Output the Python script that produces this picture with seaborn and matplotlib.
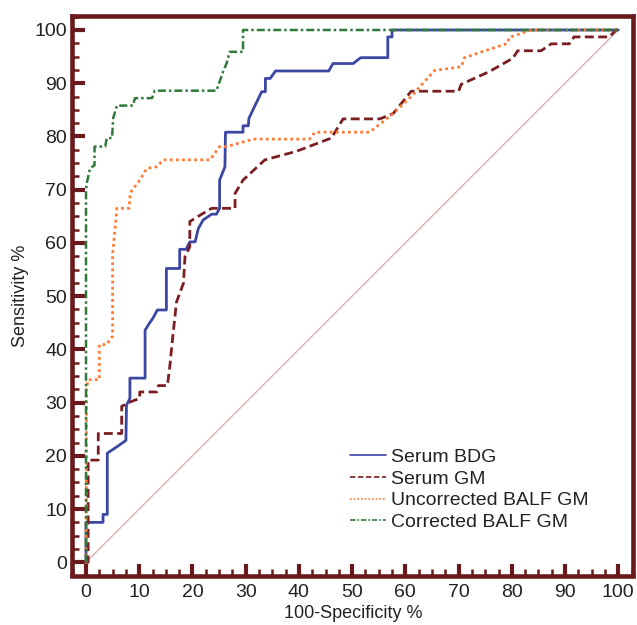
import matplotlib
matplotlib.use("Agg")
import matplotlib.pyplot as plt
import numpy as np
import pandas as pd
import seaborn as sns
from matplotlib.ticker import MultipleLocator

# ROC curves: (100-specificity, sensitivity) in %
bdg_fpr = [0, 0, 3.2, 3.2, 4.0, 4.0, 5.8, 7.5, 7.6, 8.25, 8.25, 11.1, 11.1, 11.9, 12.6, 13.4,
           15.1, 15.1, 17.6, 17.6, 18.8, 19.5, 20.5, 21.1, 22.0, 23.6, 24.5, 25.1, 25.1, 26.1,
           26.2, 29.5, 29.5, 30.5, 30.6, 33.0, 33.7, 33.7, 34.6, 35.6, 45.6, 46.4, 50.2, 51.6,
           56.7, 56.7, 57.5, 57.5, 100]
bdg_tpr = [0, 7.5, 7.5, 9.0, 9.0, 20.5, 21.7, 22.9, 29.5, 30.8, 34.6, 34.6, 43.6, 44.9, 45.9, 47.4,
           47.4, 55.2, 55.2, 58.8, 58.8, 60.2, 60.2, 62.7, 64.3, 65.4, 65.4, 66.5, 71.8, 74.3,
           80.8, 80.8, 82.0, 82.0, 83.4, 88.4, 88.4, 90.9, 90.9, 92.3, 92.3, 93.7, 93.7, 94.8,
           94.8, 98.7, 98.7, 100, 100]

gm_fpr = [0, 0.4, 0.4, 2.3, 2.3, 6.7, 6.7, 8.5, 10.1, 10.1, 13.3, 13.6, 15.3, 15.8, 16.1, 17.0,
          18.3, 18.6, 19.5, 19.5, 20.4, 23.6, 28.0, 28.0, 29.5, 33.6, 39.5, 46.1, 48.3, 55.2,
          57.7, 61.1, 70.0, 70.5, 75.8, 80.2, 81.1, 85.5, 87.4, 90.8, 91.7, 98.3, 99.6, 100]
gm_tpr = [0, 0, 19.2, 19.2, 24.2, 24.2, 29.3, 30.2, 30.8, 32.0, 32.0, 33.2, 33.2, 37.3, 40.5, 48.9,
          52.4, 57.4, 59.3, 64.0, 64.6, 66.5, 66.5, 69.3, 71.8, 75.6, 77.2, 79.7, 83.3, 83.3,
          84.3, 88.5, 88.5, 89.8, 92.2, 94.7, 96.1, 96.1, 97.4, 97.4, 98.7, 98.7, 100, 100]

unc_fpr = [0, 0.1, 0.4, 2.5, 2.5, 3.9, 4.2, 5.0, 5.0, 5.5, 5.8, 8.1, 8.3, 10.1, 11.4, 13.3, 14.5,
           23.3, 25.1, 26.4, 31.4, 42.0, 43.0, 53.3, 57.7, 61.4, 63.3, 65.5, 70.5, 71.1, 79.2,
           79.5, 83.0, 84.0, 100]
unc_tpr = [0, 32.6, 34.3, 34.3, 40.9, 40.9, 41.4, 42.5, 58.0, 63.0, 66.5, 66.5, 69.4, 71.8, 74.0,
           74.3, 75.6, 75.6, 78.1, 78.1, 79.5, 79.5, 80.8, 80.8, 84.3, 87.8, 90.0, 92.4, 93.1,
           94.8, 97.5, 98.6, 99.8, 100, 100]

cor_fpr = [0, 0, 0.2, 0.75, 1.6, 1.6, 3.6, 3.9, 4.9, 5.1, 5.8, 8.8, 9.2, 12.4, 12.9, 24.5, 25.1,
           25.8, 26.4, 27.0, 29.5, 29.5, 100]
cor_tpr = [0, 70.0, 71.5, 74.0, 74.6, 78.1, 78.1, 79.7, 79.7, 83.4, 85.8, 85.8, 87.2, 87.2, 88.6,
           88.6, 90.3, 92.3, 93.7, 95.9, 95.9, 100, 100]

ref_line = [0, 100]

series = [
    ("Serum BDG", bdg_fpr, bdg_tpr, "#3c46a3", "-", 2.0),
    ("Serum GM", gm_fpr, gm_tpr, "#7a1e22", (0, (3.2, 1.6)), 2.0),
    ("Uncorrected BALF GM", unc_fpr, unc_tpr, "#ff7a33", (0, (1.0, 1.2)), 2.0),
    ("Corrected BALF GM", cor_fpr, cor_tpr, "#2f7a3a", (0, (3.2, 1.2, 1.0, 1.2)), 1.8),
]

sns.set_style("white")
plt.rcParams['font.family'] = ['Liberation Sans', 'DejaVu Sans']

fig = plt.figure(figsize=(6.37, 6.25), dpi=100)
ax = fig.add_axes([0.1138, 0.0792, 0.8807, 0.8952])

ax.plot(ref_line, ref_line, color="#d9a8a8", lw=0.9, zorder=1)

for name, xs, ys, col, ls, lw in series:
    df = pd.DataFrame({"fpr": xs, "tpr": ys})
    sns.lineplot(x="fpr", y="tpr", data=df, sort=False, estimator=None, ax=ax,
                 color=col, linestyle=ls, linewidth=lw, label=name)

ax.set_xlim(-2.54, 102.86)
ax.set_ylim(-2.48, 102.63)
ax.xaxis.set_major_locator(MultipleLocator(10))
ax.yaxis.set_major_locator(MultipleLocator(10))
ax.xaxis.set_minor_locator(MultipleLocator(2.5))
ax.yaxis.set_minor_locator(MultipleLocator(2.5))

spine_col = "#6a1a1c"
for s in ax.spines.values():
    s.set_visible(True)
    s.set_color(spine_col)
    s.set_linewidth(3.3)

ax.tick_params(which="major", direction="in", length=9, width=3.0, color=spine_col,
               labelsize=14, labelcolor="#222222", pad=4, left=True, bottom=True)
ax.tick_params(which="minor", direction="in", length=4.8, width=1.8, color=spine_col,
               left=True, bottom=True)
ax.tick_params(axis="x", which="major", pad=6)

ax.set_xlabel("100-Specificity %", fontsize=13, color="#222222", labelpad=3)
ax.set_ylabel("Sensitivity %", fontsize=13, color="#222222", labelpad=4)

leg = ax.legend(loc="lower left", bbox_to_anchor=(0.477, 0.062), frameon=False, fontsize=14,
                handlelength=1.85, handletextpad=0.26, labelspacing=0.21, borderpad=0)
for h in leg.get_lines():
    h.set_linewidth(1.2)
for t in leg.get_texts():
    t.set_color("#222222")

fig.savefig("out.png", dpi=100)
